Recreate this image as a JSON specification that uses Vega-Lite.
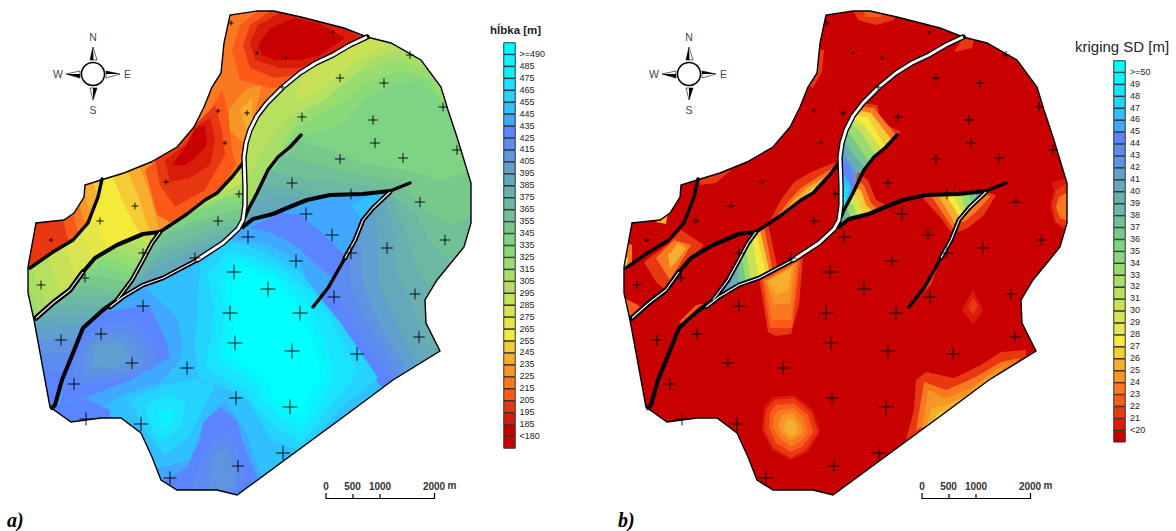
{
"$schema":"https://vega.github.io/schema/vega-lite/v6.json",
"padding":0,"spacing":0,"bounds":"flush","background":"white",
"config":{"view":{"stroke":null}},
"resolve":{"scale":{"color":"independent"},"legend":{"color":"independent"}},
"datasets":{
"outline":[{"type":"LineString","coordinates":[[28,267],[36,223],[64,220],[74,213],[84,197],[85,185],[101,180],[124,173],[151,162],[177,147],[194,127],[204,107],[212,87],[221,73],[224,43],[230,15],[257,11],[274,11],[301,17],[344,28],[367,37],[391,43],[421,60],[441,87],[448,110],[457,137],[471,183],[471,223],[464,247],[437,280],[425,300],[426,323],[440,351],[393,380],[350,412],[237,495],[217,490],[177,490],[161,480],[152,457],[141,433],[121,418],[101,418],[71,422],[50,407],[34,320],[28,293],[28,267]]}],
"mask":[{"type":"Polygon","coordinates":[[[16,4],[16,505],[482,505],[482,4],[16,4]],[[28,267],[36,223],[64,220],[74,213],[84,197],[85,185],[101,180],[124,173],[151,162],[177,147],[194,127],[204,107],[212,87],[221,73],[224,43],[230,15],[257,11],[274,11],[301,17],[344,28],[367,37],[391,43],[421,60],[441,87],[448,110],[457,137],[471,183],[471,223],[464,247],[437,280],[425,300],[426,323],[440,351],[393,380],[350,412],[237,495],[217,490],[177,490],[161,480],[152,457],[141,433],[121,418],[101,418],[71,422],[50,407],[34,320],[28,293],[28,267]]]}],
"faults":[
{"weight":"wide","inner":"wide","type":"LineString","coordinates":[[367,37],[350,45],[333,55],[316,63],[300,73],[283,87],[267,103],[257,116],[250,130],[246,143],[244,157],[245,187],[245,205],[243,220],[238,229],[223,243],[197,260]]},
{"weight":"narrow","inner":"narrow","type":"LineString","coordinates":[[197,260],[163,278],[143,285],[123,297],[110,307]]},
{"weight":"narrow","inner":"narrow","type":"LineString","coordinates":[[160,232],[152,243],[143,260],[132,280],[117,300]]},
{"weight":"thick","inner":"none","type":"LineString","coordinates":[[117,300],[103,310],[83,328],[73,353],[62,380],[55,405],[52,408]]},
{"weight":"wide","inner":"narrow","type":"LineString","coordinates":[[36,318],[53,303],[70,290],[83,272]]},
{"weight":"thick","inner":"none","type":"LineString","coordinates":[[83,272],[95,258],[117,245],[143,234],[160,232]]},
{"weight":"medium","inner":"none","type":"LineString","coordinates":[[160,232],[172,224],[187,214],[205,200],[217,193],[232,177],[243,163]]},
{"weight":"medium","inner":"none","type":"LineString","coordinates":[[30,268],[53,252],[73,240],[88,223],[93,210],[98,197],[102,179]]},
{"weight":"medium","inner":"none","type":"LineString","coordinates":[[301,135],[290,147],[278,157],[268,170],[257,193],[248,210],[245,217]]},
{"weight":"thick","inner":"none","type":"LineString","coordinates":[[243,227],[253,219],[273,214],[287,208],[307,200],[330,195],[363,194],[390,191]]},
{"weight":"medium","inner":"none","type":"LineString","coordinates":[[390,191],[410,183]]},
{"weight":"narrow","inner":"narrow","type":"LineString","coordinates":[[390,192],[373,208],[363,220],[355,240],[345,258]]},
{"weight":"medium","inner":"none","type":"LineString","coordinates":[[345,258],[328,288],[313,307]]}
],
"wells":[
{"x":231,"y":23,"depth":210},{"x":257,"y":53,"depth":180},{"x":286,"y":58,"depth":180},{"x":333,"y":32,"depth":180},{"x":282,"y":87,"depth":215},{"x":218,"y":111,"depth":205},{"x":247,"y":113,"depth":225},{"x":225,"y":143,"depth":195},{"x":166,"y":182,"depth":225},{"x":135,"y":206,"depth":255},{"x":100,"y":221,"depth":265},{"x":51,"y":240,"depth":200},{"x":85,"y":278,"depth":300},{"x":41,"y":285,"depth":310},{"x":239,"y":194,"depth":270},{"x":218,"y":221,"depth":335},{"x":410,"y":55,"depth":290},{"x":340,"y":78,"depth":295},{"x":384,"y":83,"depth":320},{"x":443,"y":107,"depth":315},{"x":302,"y":117,"depth":310},{"x":373,"y":120,"depth":330},{"x":375,"y":143,"depth":340},{"x":340,"y":159,"depth":345},{"x":403,"y":158,"depth":340},{"x":457,"y":150,"depth":335},{"x":292,"y":183,"depth":375},{"x":420,"y":202,"depth":350},{"x":351,"y":194,"depth":365},{"x":306,"y":214,"depth":425},{"x":445,"y":240,"depth":365},{"x":332,"y":235,"depth":425},{"x":387,"y":248,"depth":395},{"x":351,"y":253,"depth":415},{"x":248,"y":237,"depth":425},{"x":296,"y":261,"depth":435},{"x":195,"y":258,"depth":370},{"x":143,"y":253,"depth":325},{"x":234,"y":272,"depth":480},{"x":268,"y":289,"depth":490},{"x":334,"y":297,"depth":425},{"x":415,"y":294,"depth":370},{"x":143,"y":306,"depth":420},{"x":230,"y":313,"depth":490},{"x":300,"y":313,"depth":490},{"x":419,"y":337,"depth":390},{"x":101,"y":334,"depth":395},{"x":61,"y":340,"depth":385},{"x":235,"y":343,"depth":490},{"x":292,"y":351,"depth":490},{"x":357,"y":354,"depth":450},{"x":132,"y":363,"depth":405},{"x":187,"y":368,"depth":440},{"x":74,"y":384,"depth":420},{"x":236,"y":398,"depth":450},{"x":290,"y":407,"depth":490},{"x":86,"y":419,"depth":425},{"x":141,"y":424,"depth":470},{"x":283,"y":453,"depth":450},{"x":238,"y":466,"depth":410},{"x":170,"y":478,"depth":440}
],
"spikes":[
{"type":"Polygon","coordinates":[[[93,47],[90,60],[97,60],[93,47]]]},
{"type":"Polygon","coordinates":[[[93,100],[90,88],[97,88],[93,100]]]},
{"type":"Polygon","coordinates":[[[66,74],[80,71],[80,78],[66,74]]]},
{"type":"Polygon","coordinates":[[[120,74],[106,71],[106,78],[120,74]]]}
],
"spikeHalves":[
{"type":"Polygon","coordinates":[[[93,47],[90,60],[93.5,60],[93,47]]]},
{"type":"Polygon","coordinates":[[[93,100],[97,88],[93,88],[93,100]]]},
{"type":"Polygon","coordinates":[[[66,74],[80,78],[80,74],[66,74]]]},
{"type":"Polygon","coordinates":[[[120,74],[106,71],[106,74],[120,74]]]}
],
"scaleBar":[{"type":"MultiLineString","coordinates":[[[326,493],[326,498.5],[434.5,498.5],[434.5,493]],[[353,494],[353,498.5]],[[380,494],[380,498.5]]]}],
"scaleText":[{"x":326,"y":490,"t":"0"},{"x":352.5,"y":490,"t":"500"},{"x":380,"y":490,"t":"1000"},{"x":434,"y":490,"t":"2000"},{"x":452,"y":489,"t":"m"}],
"compassText":[{"x":93,"y":41,"t":"N"},{"x":58,"y":78,"t":"W"},{"x":127.5,"y":78,"t":"E"},{"x":93,"y":114,"t":"S"}],
"legendA":[{"y":48.5,"band":">=490"},{"y":60.4,"band":"485"},{"y":72.4,"band":"475"},{"y":84.3,"band":"465"},{"y":96.3,"band":"455"},{"y":108.2,"band":"445"},{"y":120.1,"band":"435"},{"y":132.1,"band":"425"},{"y":144,"band":"415"},{"y":156,"band":"405"},{"y":167.9,"band":"395"},{"y":179.8,"band":"385"},{"y":191.8,"band":"375"},{"y":203.7,"band":"365"},{"y":215.7,"band":"355"},{"y":227.6,"band":"345"},{"y":239.5,"band":"335"},{"y":251.5,"band":"325"},{"y":263.4,"band":"315"},{"y":275.4,"band":"305"},{"y":287.3,"band":"295"},{"y":299.2,"band":"285"},{"y":311.2,"band":"275"},{"y":323.1,"band":"265"},{"y":335.1,"band":"255"},{"y":347,"band":"245"},{"y":358.9,"band":"235"},{"y":370.9,"band":"225"},{"y":382.8,"band":"215"},{"y":394.8,"band":"205"},{"y":406.7,"band":"195"},{"y":418.6,"band":"185"},{"y":430.6,"band":"<180"},{"y":442.5,"band":"below"}],
"legendB":[{"y":66.5,"band":">=50"},{"y":78.4,"band":"49"},{"y":90.4,"band":"48"},{"y":102.3,"band":"47"},{"y":114.2,"band":"46"},{"y":126.2,"band":"45"},{"y":138.1,"band":"44"},{"y":150,"band":"43"},{"y":161.9,"band":"42"},{"y":173.9,"band":"41"},{"y":185.8,"band":"40"},{"y":197.7,"band":"39"},{"y":209.7,"band":"38"},{"y":221.6,"band":"37"},{"y":233.5,"band":"36"},{"y":245.5,"band":"35"},{"y":257.4,"band":"34"},{"y":269.3,"band":"33"},{"y":281.2,"band":"32"},{"y":293.2,"band":"31"},{"y":305.1,"band":"30"},{"y":317,"band":"29"},{"y":329,"band":"28"},{"y":340.9,"band":"27"},{"y":352.8,"band":"26"},{"y":364.8,"band":"25"},{"y":376.7,"band":"24"},{"y":388.6,"band":"23"},{"y":400.5,"band":"22"},{"y":412.5,"band":"21"},{"y":424.4,"band":"<20"},{"y":436.3,"band":"below"}],
"fieldA":[
{"band":"335","type":"Polygon","coordinates":[[[22,8],[476,8],[476,500],[22,500],[22,8]]]},
{"band":"345","type":"Polygon","coordinates":[[[296,140],[330,150],[370,165],[405,170],[440,180],[476,170],[476,500],[240,500],[240,230],[296,140]]]},
{"band":"355","type":"Polygon","coordinates":[[[282,155],[320,165],[360,175],[400,182],[425,210],[450,225],[476,215],[476,500],[240,500],[240,230],[282,155]]]},
{"band":"365","type":"Polygon","coordinates":[[[270,170],[300,178],[340,182],[385,190],[415,212],[432,245],[450,262],[476,260],[476,500],[240,500],[240,230],[270,170]]]},
{"band":"375","type":"Polygon","coordinates":[[[262,185],[285,187],[320,195],[390,195],[405,230],[415,265],[430,290],[440,320],[476,340],[476,500],[240,500],[240,230],[262,185]]]},
{"band":"385","type":"Polygon","coordinates":[[[255,200],[290,196],[310,200],[385,200],[395,235],[395,270],[410,300],[425,345],[476,360],[476,500],[240,500],[240,230],[255,200]]]},
{"band":"395","type":"Polygon","coordinates":[[[375,212],[378,250],[378,280],[395,320],[415,360],[420,400],[240,500],[240,230],[375,212]]]},
{"band":"405","type":"Polygon","coordinates":[[[362,245],[362,280],[375,315],[405,367],[410,400],[240,500],[240,230],[362,245]]]},
{"band":"415","type":"Polygon","coordinates":[[[350,260],[350,285],[365,320],[398,372],[400,400],[240,500],[240,230],[350,260]]]},
{"band":"425","type":"Polygon","coordinates":[[[332,285],[340,300],[360,335],[390,378],[392,400],[240,500],[240,230],[332,285]]]},
{"band":"325","type":"Polygon","coordinates":[[[246,216],[257,193],[268,170],[282,153],[301,135],[325,130],[345,122],[365,100],[390,85],[420,80],[445,105],[460,135],[476,145],[476,8],[232,8],[232,216],[246,216]]]},
{"band":"315","type":"Polygon","coordinates":[[[246,216],[257,193],[268,170],[282,153],[296,128],[320,115],[345,100],[370,82],[400,70],[430,80],[448,108],[476,115],[476,8],[232,8],[232,216],[246,216]]]},
{"band":"305","type":"Polygon","coordinates":[[[246,216],[257,193],[268,170],[280,150],[298,118],[330,95],[360,72],[395,60],[425,68],[445,90],[476,85],[476,8],[232,8],[232,216],[246,216]]]},
{"band":"295","type":"Polygon","coordinates":[[[246,180],[262,150],[285,120],[305,108],[325,100],[345,82],[370,60],[400,50],[440,65],[476,60],[476,8],[232,8],[232,180],[246,180]]]},
{"band":"285","type":"Polygon","coordinates":[[[300,100],[320,90],[350,65],[385,45],[370,30],[330,50],[305,75],[295,90],[300,100]]]},

{"band":"435","type":"Polygon","coordinates":[[[243,222],[253,219],[273,214],[287,208],[307,200],[330,195],[363,194],[390,191],[373,208],[363,220],[355,240],[345,258],[328,288],[313,307],[350,345],[380,385],[393,400],[240,500],[160,500],[40,430],[50,408],[55,405],[62,380],[73,353],[83,328],[103,310],[117,300],[123,297],[143,285],[163,278],[197,260],[223,243],[238,229],[243,222]]]},
{"band":"445","type":"Polygon","coordinates":[[[147,288],[177,317],[183,343],[180,360],[160,383],[127,393],[100,408],[110,425],[150,470],[190,460],[205,420],[225,400],[245,430],[262,480],[390,395],[360,365],[335,338],[316,305],[300,262],[270,245],[240,240],[200,262],[165,280],[147,288]]]},
{"band":"445","type":"Polygon","coordinates":[[[375,193],[390,191],[373,208],[363,220],[352,205],[375,193]]]},
{"band":"425","type":"Polygon","coordinates":[[[250,228],[280,213],[300,215],[325,235],[347,258],[335,280],[320,268],[295,245],[270,232],[250,228]]]},
{"band":"425","type":"Polygon","coordinates":[[[103,312],[150,305],[167,343],[170,357],[130,380],[87,397],[60,403],[65,380],[74,350],[83,328],[103,312]]]},
{"band":"425","type":"Polygon","coordinates":[[[55,405],[85,398],[110,410],[110,422],[71,425],[50,410],[55,405]]]},
{"band":"415","type":"Polygon","coordinates":[[[100,325],[135,322],[155,350],[155,368],[120,380],[85,385],[72,378],[80,345],[100,325]]]},
{"band":"405","type":"Polygon","coordinates":[[[100,335],[125,332],[145,352],[142,368],[110,375],[85,375],[85,350],[100,335]]]},
{"band":"395","type":"Polygon","coordinates":[[[95,345],[120,342],[132,358],[115,368],[92,365],[95,345]]]},
{"band":"455","type":"Polygon","coordinates":[[[200,265],[230,240],[265,252],[300,272],[318,295],[340,322],[358,348],[378,378],[340,408],[305,452],[272,440],[248,400],[225,388],[198,378],[195,345],[198,310],[200,265]]]},
{"band":"465","type":"Polygon","coordinates":[[[208,275],[228,250],[252,256],[280,267],[312,292],[330,318],[345,345],[358,372],[330,408],[302,443],[278,428],[255,408],[245,390],[225,380],[205,365],[212,335],[214,305],[208,275]]]},
{"band":"475","type":"Polygon","coordinates":[[[220,280],[232,257],[275,272],[303,297],[318,322],[328,350],[335,378],[318,410],[300,433],[282,418],[262,400],[258,388],[240,375],[218,360],[222,335],[224,310],[220,280]]]},
{"band":"485","type":"Polygon","coordinates":[[[225,285],[238,262],[275,276],[299,300],[312,324],[322,352],[328,378],[312,402],[301,425],[286,414],[268,399],[262,385],[244,371],[224,358],[227,335],[228,310],[225,285]]]},
{"band":">=490","type":"Polygon","coordinates":[[[240,268],[273,280],[294,302],[306,324],[316,352],[320,375],[309,396],[299,415],[290,408],[272,394],[268,380],[247,365],[232,352],[234,335],[234,310],[232,287],[240,268]]]},
{"band":"455","type":"Polygon","coordinates":[[[130,400],[165,385],[195,380],[215,385],[205,405],[190,435],[165,455],[152,440],[140,422],[130,400]]]},
{"band":"465","type":"Polygon","coordinates":[[[145,405],[170,395],[185,403],[182,425],[165,440],[155,435],[148,418],[145,405]]]},
{"band":"475","type":"Polygon","coordinates":[[[158,412],[172,410],[175,420],[163,430],[158,412]]]},
{"band":"425","type":"Polygon","coordinates":[[[220,407],[237,420],[243,443],[257,477],[240,497],[173,497],[163,482],[187,467],[200,440],[203,423],[220,407]]]},
{"band":"415","type":"Polygon","coordinates":[[[214,440],[228,432],[238,452],[245,480],[232,492],[190,492],[200,465],[214,440]]]},
{"band":"405","type":"Polygon","coordinates":[[[212,455],[225,447],[235,465],[235,489],[208,490],[212,455]]]},

{"band":"385","type":"Polygon","coordinates":[[[160,232],[172,224],[187,214],[205,200],[217,193],[232,177],[243,163],[245,187],[245,205],[243,220],[238,229],[223,243],[197,260],[163,278],[143,285],[123,297],[117,300],[132,280],[143,260],[152,243],[160,232]]]},
{"band":"375","type":"Polygon","coordinates":[[[120,298],[150,270],[178,258],[210,245],[225,243],[238,229],[245,205],[245,187],[244,160],[160,160],[160,232],[152,243],[143,260],[132,280],[120,298]]]},
{"band":"365","type":"Polygon","coordinates":[[[130,285],[158,258],[185,247],[212,238],[232,232],[245,205],[245,187],[244,160],[160,160],[160,232],[152,243],[143,260],[132,280],[130,285]]]},
{"band":"355","type":"Polygon","coordinates":[[[142,262],[165,245],[192,237],[220,228],[240,225],[245,205],[245,187],[244,160],[160,160],[160,232],[152,243],[142,262]]]},
{"band":"345","type":"Polygon","coordinates":[[[150,245],[172,232],[200,225],[225,220],[245,218],[245,187],[244,160],[160,160],[160,232],[152,243],[150,245]]]},
{"band":"335","type":"Polygon","coordinates":[[[155,238],[178,226],[205,218],[228,212],[245,208],[245,187],[244,160],[160,160],[160,232],[155,238]]]},
{"band":"325","type":"Polygon","coordinates":[[[165,228],[190,213],[215,206],[235,203],[245,198],[245,187],[244,160],[160,160],[165,228]]]},
{"band":"305","type":"Polygon","coordinates":[[[185,217],[205,205],[222,198],[236,194],[245,190],[244,160],[170,160],[185,217]]]},
{"band":"285","type":"Polygon","coordinates":[[[210,198],[225,190],[238,185],[245,182],[244,160],[200,160],[210,198]]]},
{"band":"265","type":"Polygon","coordinates":[[[228,178],[238,172],[245,170],[244,155],[225,155],[228,178]]]},

{"band":"425","type":"Polygon","coordinates":[[[160,232],[143,234],[117,245],[95,258],[83,272],[70,290],[53,303],[36,318],[20,318],[40,420],[55,405],[62,380],[73,353],[83,328],[103,310],[117,300],[132,280],[143,260],[152,243],[160,232]]]},
{"band":"415","type":"Polygon","coordinates":[[[20,375],[65,370],[73,353],[83,328],[103,310],[117,300],[132,280],[143,260],[152,243],[160,232],[160,225],[20,225],[20,375]]]},
{"band":"405","type":"Polygon","coordinates":[[[20,355],[72,352],[83,328],[103,310],[117,300],[132,280],[143,260],[152,243],[160,232],[160,225],[20,225],[20,355]]]},
{"band":"395","type":"Polygon","coordinates":[[[20,340],[78,338],[83,328],[103,310],[117,300],[132,280],[143,260],[152,243],[160,232],[160,225],[20,225],[20,340]]]},
{"band":"385","type":"Polygon","coordinates":[[[20,328],[85,325],[103,310],[117,300],[132,280],[143,260],[152,243],[160,232],[160,225],[20,225],[20,328]]]},
{"band":"375","type":"Polygon","coordinates":[[[20,322],[60,315],[95,318],[103,310],[117,300],[132,280],[143,260],[152,243],[160,232],[160,225],[20,225],[20,322]]]},
{"band":"365","type":"Polygon","coordinates":[[[48,308],[72,305],[108,307],[117,300],[132,280],[143,260],[152,243],[160,232],[160,225],[20,225],[48,308]]]},
{"band":"355","type":"Polygon","coordinates":[[[55,300],[80,295],[118,298],[132,280],[143,260],[152,243],[160,232],[160,225],[20,225],[55,300]]]},
{"band":"345","type":"Polygon","coordinates":[[[62,295],[85,285],[122,292],[132,280],[143,260],[152,243],[160,232],[160,225],[20,225],[62,295]]]},
{"band":"335","type":"Polygon","coordinates":[[[70,288],[92,275],[130,282],[143,260],[152,243],[160,232],[160,225],[20,225],[70,288]]]},
{"band":"325","type":"Polygon","coordinates":[[[75,282],[100,265],[133,276],[143,260],[152,243],[160,232],[160,225],[20,225],[75,282]]]},
{"band":"315","type":"Polygon","coordinates":[[[83,270],[105,258],[138,268],[143,260],[152,243],[160,232],[160,225],[20,225],[83,270]]]},
{"band":"305","type":"Polygon","coordinates":[[[90,262],[115,250],[143,260],[152,243],[160,232],[160,225],[20,225],[90,262]]]},
{"band":"295","type":"Polygon","coordinates":[[[100,253],[125,243],[148,250],[152,243],[160,232],[160,225],[20,225],[100,253]]]},
{"band":"285","type":"Polygon","coordinates":[[[118,245],[135,238],[152,243],[160,232],[160,225],[60,225],[118,245]]]},

{"band":"215","type":"Polygon","coordinates":[[[102,175],[210,70],[222,8],[372,8],[367,37],[350,45],[333,55],[316,63],[300,73],[283,87],[267,103],[257,116],[250,130],[246,143],[244,157],[243,163],[232,177],[217,193],[205,200],[187,214],[172,224],[160,232],[143,234],[117,245],[95,258],[83,272],[70,290],[53,303],[36,318],[20,320],[20,268],[30,268],[53,252],[73,240],[88,223],[93,210],[98,197],[102,175]]]},
{"band":"225","type":"Polygon","coordinates":[[[147,150],[160,190],[172,224],[160,232],[143,234],[117,245],[95,258],[83,272],[70,290],[53,303],[36,318],[20,318],[20,150],[147,150]]]},
{"band":"235","type":"Polygon","coordinates":[[[135,155],[150,195],[160,232],[143,234],[117,245],[95,258],[83,272],[70,290],[53,303],[36,318],[20,318],[20,155],[135,155]]]},
{"band":"245","type":"Polygon","coordinates":[[[122,160],[138,195],[150,233],[143,234],[117,245],[95,258],[83,272],[70,290],[53,303],[36,318],[20,318],[20,160],[122,160]]]},
{"band":"255","type":"Polygon","coordinates":[[[108,165],[122,200],[140,235],[117,245],[95,258],[83,272],[70,290],[53,303],[36,318],[20,318],[20,165],[108,165]]]},
{"band":"265","type":"Polygon","coordinates":[[[92,200],[92,215],[108,249],[95,258],[83,272],[70,290],[53,303],[36,318],[20,318],[20,200],[92,200]]]},
{"band":"275","type":"Polygon","coordinates":[[[78,225],[93,260],[83,272],[70,290],[53,303],[36,318],[20,318],[20,225],[78,225]]]},
{"band":"285","type":"Polygon","coordinates":[[[60,240],[78,278],[70,290],[53,303],[36,318],[20,318],[20,240],[60,240]]]},
{"band":"295","type":"Polygon","coordinates":[[[45,250],[62,296],[53,303],[36,318],[20,318],[20,250],[45,250]]]},
{"band":"305","type":"Polygon","coordinates":[[[30,262],[47,308],[36,318],[20,318],[20,262],[30,262]]]},
{"band":"315","type":"Polygon","coordinates":[[[28,285],[38,312],[36,318],[20,318],[20,285],[28,285]]]},
{"band":"225","type":"Polygon","coordinates":[[[225,115],[245,90],[262,85],[255,115],[245,145],[230,130],[225,115]]]},
{"band":"235","type":"Polygon","coordinates":[[[240,110],[252,98],[252,120],[246,130],[240,110]]]},
{"band":"205","type":"Polygon","coordinates":[[[232,50],[240,25],[262,8],[300,8],[367,37],[350,45],[333,55],[316,63],[300,73],[283,87],[270,88],[240,80],[232,50]]]},
{"band":"195","type":"Polygon","coordinates":[[[243,45],[250,25],[275,8],[330,15],[367,37],[350,45],[333,55],[316,63],[295,75],[275,78],[250,68],[243,45]]]},
{"band":"185","type":"Polygon","coordinates":[[[250,42],[258,25],[285,10],[340,25],[362,38],[333,55],[316,63],[300,68],[280,68],[255,60],[250,42]]]},
{"band":"<180","type":"Polygon","coordinates":[[[258,45],[270,28],[295,18],[320,24],[345,38],[320,55],[300,60],[275,60],[262,55],[258,45]]]},
{"band":"205","type":"Polygon","coordinates":[[[205,120],[222,90],[228,110],[232,150],[236,165],[220,190],[195,206],[170,222],[157,215],[145,170],[180,140],[205,120]]]},
{"band":"195","type":"Polygon","coordinates":[[[202,118],[215,105],[222,130],[225,155],[205,190],[175,207],[160,185],[155,160],[180,140],[202,118]]]},
{"band":"185","type":"Polygon","coordinates":[[[198,125],[210,118],[215,140],[210,165],[190,178],[170,182],[165,160],[185,145],[198,125]]]},
{"band":"<180","type":"Polygon","coordinates":[[[195,128],[205,125],[207,145],[195,158],[185,165],[172,165],[187,145],[195,128]]]},

{"band":"195","type":"Polygon","coordinates":[[[20,215],[68,215],[78,207],[87,190],[87,175],[102,175],[98,197],[93,210],[88,223],[73,240],[53,252],[30,268],[20,275],[20,215]]]},
{"band":"205","type":"Polygon","coordinates":[[[62,215],[78,207],[87,175],[102,175],[98,197],[93,210],[88,223],[75,238],[68,240],[62,215]]]},
{"band":"215","type":"Polygon","coordinates":[[[72,210],[85,190],[85,175],[102,175],[98,197],[93,210],[85,225],[78,232],[72,210]]]},
{"band":"225","type":"Polygon","coordinates":[[[80,205],[85,185],[102,175],[98,197],[90,215],[84,222],[80,205]]]},
{"band":"235","type":"Polygon","coordinates":[[[84,192],[85,178],[102,175],[96,200],[89,210],[84,192]]]},
{"band":"245","type":"Polygon","coordinates":[[[92,178],[102,175],[97,195],[92,178]]]}
],
"fieldB":[
{"band":"below","type":"Polygon","coordinates":[[[22,8],[476,8],[476,500],[22,500],[22,8]]]},
{"band":"21","type":"Polygon","coordinates":[[[256,8],[300,8],[298,20],[280,25],[262,20],[256,8]]]},
{"band":"22","type":"Polygon","coordinates":[[[265,8],[290,8],[285,17],[270,17],[265,8]]]},
{"band":"21","type":"Polygon","coordinates":[[[367,38],[378,40],[376,48],[358,52],[367,38]]]},
{"band":"21","type":"Polygon","coordinates":[[[222,50],[228,50],[226,72],[217,88],[212,85],[222,50]]]},
{"band":"21","type":"Polygon","coordinates":[[[102,172],[140,160],[135,170],[120,183],[104,185],[102,172]]]},
{"band":"21","type":"Polygon","coordinates":[[[172,224],[185,200],[198,182],[215,172],[240,162],[232,178],[217,193],[187,214],[172,224]]]},
{"band":"23","type":"Polygon","coordinates":[[[180,218],[192,202],[205,188],[222,177],[237,168],[232,178],[217,193],[187,214],[180,218]]]},
{"band":"25","type":"Polygon","coordinates":[[[187,214],[198,200],[212,187],[228,178],[232,178],[217,193],[187,214]]]},
{"band":"27","type":"Polygon","coordinates":[[[197,207],[208,196],[220,186],[217,193],[197,207]]]},
{"band":"21","type":"Polygon","coordinates":[[[48,262],[72,244],[85,230],[108,245],[95,258],[83,272],[70,290],[60,282],[48,262]]]},
{"band":"23","type":"Polygon","coordinates":[[[60,258],[78,240],[95,245],[85,262],[74,280],[60,258]]]},
{"band":"25","type":"Polygon","coordinates":[[[72,255],[82,243],[90,248],[80,262],[74,268],[72,255]]]},
{"band":"23","type":"Polygon","coordinates":[[[22,240],[36,245],[36,262],[22,274],[22,240]]]},
{"band":"27","type":"Polygon","coordinates":[[[22,255],[32,258],[30,268],[22,274],[22,255]]]},
{"band":"25","type":"Polygon","coordinates":[[[60,222],[72,212],[70,224],[60,222]]]},
{"band":"22","type":"Polygon","coordinates":[[[22,295],[42,305],[47,310],[36,318],[22,320],[22,295]]]},
{"band":"22","type":"Polygon","coordinates":[[[83,322],[100,305],[112,303],[108,308],[90,325],[83,322]]]},
{"band":"21","type":"Polygon","coordinates":[[[160,232],[172,224],[182,270],[163,278],[143,285],[123,297],[117,300],[132,280],[143,260],[152,243],[160,232]]]},
{"band":"23","type":"Polygon","coordinates":[[[160,232],[168,227],[177,272],[163,278],[143,285],[123,297],[117,300],[132,280],[143,260],[152,243],[160,232]]]},
{"band":"26","type":"Polygon","coordinates":[[[160,232],[164,230],[174,274],[163,278],[143,285],[123,297],[117,300],[132,280],[143,260],[152,243],[160,232]]]},
{"band":"27","type":"Polygon","coordinates":[[[160,232],[170,275],[163,278],[143,285],[123,297],[117,300],[132,280],[143,260],[152,243],[160,232]]]},
{"band":"30","type":"Polygon","coordinates":[[[156,238],[163,278],[143,285],[123,297],[117,300],[132,280],[143,260],[152,243],[156,238]]]},
{"band":"33","type":"Polygon","coordinates":[[[150,250],[155,281],[143,285],[123,297],[117,300],[132,280],[143,260],[150,250]]]},
{"band":"36","type":"Polygon","coordinates":[[[146,257],[150,283],[143,285],[123,297],[117,300],[132,280],[143,260],[146,257]]]},
{"band":"39","type":"Polygon","coordinates":[[[141,264],[143,285],[123,297],[117,300],[132,280],[141,264]]]},
{"band":"41","type":"Polygon","coordinates":[[[136,273],[135,289],[123,297],[117,300],[132,280],[136,273]]]},
{"band":"43","type":"Polygon","coordinates":[[[130,283],[129,292],[123,297],[117,300],[130,283]]]},
{"band":"44","type":"Polygon","coordinates":[[[125,292],[125,295],[117,300],[125,292]]]},
{"band":"21","type":"Polygon","coordinates":[[[163,278],[172,332],[180,336],[195,334],[203,305],[207,258],[163,278]]]},
{"band":"22","type":"Polygon","coordinates":[[[166,279],[174,328],[196,328],[200,295],[204,260],[166,279]]]},
{"band":"23","type":"Polygon","coordinates":[[[168,281],[176,320],[195,320],[199,288],[202,262],[168,281]]]},
{"band":"24","type":"Polygon","coordinates":[[[170,281],[178,305],[194,303],[198,270],[200,263],[170,281]]]},
{"band":"25","type":"Polygon","coordinates":[[[172,281],[180,295],[192,290],[196,268],[172,281]]]},
{"band":"21","type":"Polygon","coordinates":[[[265,103],[281,105],[285,122],[305,132],[301,135],[290,147],[278,157],[268,167],[260,180],[255,195],[247,213],[245,217],[245,187],[244,157],[246,143],[250,130],[257,116],[265,103]]]},
{"band":"23","type":"Polygon","coordinates":[[[262,106],[278,108],[300,135],[290,147],[278,157],[268,167],[260,180],[255,195],[247,213],[245,217],[245,187],[244,157],[246,143],[250,130],[257,116],[262,106]]]},
{"band":"26","type":"Polygon","coordinates":[[[260,110],[275,113],[296,140],[290,147],[278,157],[268,167],[260,180],[255,195],[247,213],[245,217],[245,187],[244,157],[246,143],[250,130],[257,116],[260,110]]]},
{"band":"27","type":"Polygon","coordinates":[[[258,114],[272,118],[290,147],[278,157],[268,167],[260,180],[255,195],[247,213],[245,217],[245,187],[244,157],[246,143],[250,130],[258,114]]]},
{"band":"30","type":"Polygon","coordinates":[[[256,118],[268,125],[286,150],[278,157],[268,167],[260,180],[255,195],[247,213],[245,217],[245,187],[244,157],[246,143],[250,130],[256,118]]]},
{"band":"33","type":"Polygon","coordinates":[[[254,122],[265,133],[280,155],[268,167],[260,180],[255,195],[247,213],[245,217],[245,187],[244,157],[246,143],[250,130],[254,122]]]},
{"band":"36","type":"Polygon","coordinates":[[[250,130],[262,145],[273,162],[268,167],[260,180],[255,195],[247,213],[245,217],[245,187],[244,157],[246,143],[250,130]]]},
{"band":"39","type":"Polygon","coordinates":[[[247,140],[258,155],[268,167],[260,180],[255,195],[247,213],[245,217],[245,187],[244,157],[247,140]]]},
{"band":"42","type":"Polygon","coordinates":[[[245,148],[255,165],[262,176],[255,195],[247,213],[245,217],[245,187],[244,157],[245,148]]]},
{"band":"44","type":"Polygon","coordinates":[[[245,155],[252,166],[258,180],[255,195],[247,213],[245,217],[245,187],[245,155]]]},
{"band":"46","type":"Polygon","coordinates":[[[245,170],[254,184],[255,195],[247,213],[245,217],[245,170]]]},
{"band":"48","type":"Polygon","coordinates":[[[245,180],[252,190],[247,213],[245,217],[245,180]]]},
{"band":">=50","type":"Polygon","coordinates":[[[245,188],[250,200],[247,213],[245,217],[245,188]]]},
{"band":"21","type":"Polygon","coordinates":[[[262,172],[272,180],[280,200],[292,206],[273,214],[253,219],[245,222],[247,213],[255,195],[260,180],[262,172]]]},
{"band":"23","type":"Polygon","coordinates":[[[260,180],[268,185],[275,203],[283,210],[273,214],[253,219],[245,222],[247,213],[255,195],[260,180]]]},
{"band":"26","type":"Polygon","coordinates":[[[258,187],[265,190],[270,205],[278,212],[273,214],[253,219],[245,222],[247,213],[255,195],[258,187]]]},
{"band":"29","type":"Polygon","coordinates":[[[255,195],[261,197],[265,208],[270,215],[253,219],[245,222],[247,213],[255,195]]]},
{"band":"33","type":"Polygon","coordinates":[[[252,202],[258,205],[260,214],[263,216],[253,219],[245,222],[247,213],[252,202]]]},
{"band":"37","type":"Polygon","coordinates":[[[250,207],[253,213],[255,218],[245,222],[247,213],[250,207]]]},
{"band":"40","type":"Polygon","coordinates":[[[247,214],[250,217],[245,222],[247,214]]]},
{"band":"21","type":"Polygon","coordinates":[[[325,196],[390,190],[373,208],[363,220],[357,235],[345,218],[325,196]]]},
{"band":"23","type":"Polygon","coordinates":[[[335,196],[390,190],[373,208],[363,220],[358,230],[350,218],[335,196]]]},
{"band":"25","type":"Polygon","coordinates":[[[342,196],[390,190],[373,208],[363,220],[360,226],[353,213],[342,196]]]},
{"band":"27","type":"Polygon","coordinates":[[[350,196],[390,190],[373,208],[364,218],[358,208],[350,196]]]},
{"band":"30","type":"Polygon","coordinates":[[[358,196],[390,190],[373,208],[367,214],[362,205],[358,196]]]},
{"band":"33","type":"Polygon","coordinates":[[[365,195],[390,191],[373,208],[369,208],[365,195]]]},
{"band":"36","type":"Polygon","coordinates":[[[373,195],[390,191],[376,205],[373,195]]]},
{"band":"40","type":"Polygon","coordinates":[[[380,194],[390,191],[380,200],[380,194]]]},
{"band":"21","type":"Polygon","coordinates":[[[390,192],[400,195],[388,215],[372,228],[362,232],[363,220],[373,208],[390,192]]]},
{"band":"23","type":"Polygon","coordinates":[[[390,192],[394,197],[380,212],[368,222],[363,222],[373,208],[390,192]]]},
{"band":"21","type":"Polygon","coordinates":[[[326,288],[338,268],[345,258],[335,285],[320,300],[326,288]]]},
{"band":"<20","type":"Polygon","coordinates":[[[455,183],[458,190],[454,205],[458,222],[476,236],[476,176],[455,183]]]},
{"band":"21","type":"Polygon","coordinates":[[[476,180],[460,190],[456,205],[460,222],[476,232],[476,180]]]},
{"band":"23","type":"Polygon","coordinates":[[[476,190],[463,197],[460,207],[464,218],[476,222],[476,190]]]},
{"band":"<20","type":"Polygon","coordinates":[[[366,310],[377,290],[387,310],[377,325],[366,310]]]},
{"band":"21","type":"Polygon","coordinates":[[[372,307],[377,298],[382,306],[377,315],[372,307]]]},
{"band":"<20","type":"Polygon","coordinates":[[[176,397],[198,395],[217,410],[224,432],[212,452],[195,460],[176,450],[166,430],[168,408],[176,397]]]},
{"band":"21","type":"Polygon","coordinates":[[[178,400],[198,398],[215,412],[222,432],[210,450],[195,458],[178,448],[168,430],[170,410],[178,400]]]},
{"band":"22","type":"Polygon","coordinates":[[[180,405],[198,403],[212,415],[217,432],[207,446],[195,452],[180,443],[173,428],[174,412],[180,405]]]},
{"band":"23","type":"Polygon","coordinates":[[[183,410],[198,408],[208,418],[212,432],[204,442],[195,447],[183,438],[177,427],[178,415],[183,410]]]},
{"band":"24","type":"Polygon","coordinates":[[[186,415],[197,413],[205,423],[207,432],[200,438],[194,441],[186,434],[182,426],[186,415]]]},
{"band":"25","type":"Polygon","coordinates":[[[190,420],[197,419],[202,428],[199,435],[193,436],[188,430],[190,420]]]},
{"band":"21","type":"Polygon","coordinates":[[[310,440],[318,410],[320,380],[330,372],[358,378],[385,365],[405,352],[430,350],[430,365],[350,420],[310,440]]]},
{"band":"23","type":"Polygon","coordinates":[[[320,430],[326,395],[328,382],[350,390],[378,378],[405,362],[425,358],[350,415],[320,430]]]},
{"band":"24","type":"Polygon","coordinates":[[[326,428],[330,405],[332,390],[350,398],[375,388],[400,370],[415,362],[350,415],[326,428]]]},
{"band":"25","type":"Polygon","coordinates":[[[330,428],[336,408],[350,405],[372,395],[390,380],[402,372],[350,415],[330,428]]]},
{"band":"26","type":"Polygon","coordinates":[[[335,428],[342,412],[358,410],[375,398],[388,385],[350,415],[335,428]]]},
{"band":"27","type":"Polygon","coordinates":[[[340,426],[350,417],[365,408],[375,400],[350,418],[340,426]]]}
]
},
"hconcat":[
{"width":596,"height":531,
"projection":{"type":"identity","scale":1,"translate":[0,0]},
"resolve":{"scale":{"strokeWidth":"independent"}},
"layer":[
{"data":{"name":"fieldA"},"mark":{"type":"geoshape","strokeWidth":0},
 "encoding":{"color":{"field":"band","type":"nominal","sort":null,"legend":null,
 "scale":{"domain":[">=490","485","475","465","455","445","435","425","415","405","395","385","375","365","355","345","335","325","315","305","295","285","275","265","255","245","235","225","215","205","195","185","<180","below"],
 "range":["#00FFFF","#04F8FF","#0CF0FF","#18E4FF","#24D4FF","#30C0FF","#40A8FF","#5A85FF","#5C8CF0","#5E94E0","#60A0D0","#64A8BC","#68B0B0","#6CB8A4","#72C098","#78C88C","#7ED484","#88DA78","#98DC70","#A8DE68","#B8E060","#C8E258","#D8E450","#E6E648","#F4EA3C","#F5CC35","#F5AE2D","#F79526","#F97820","#FB5A19","#E83812","#D91C0A","#C80000","#C80000"]}}}},
{"data":{"name":"mask"},"mark":{"type":"geoshape","fill":"white","stroke":null},"encoding":{}},
{"data":{"name":"outline"},"mark":{"type":"geoshape","filled":false,"stroke":"#000000","strokeWidth":1.4},"encoding":{}},
{"data":{"name":"faults"},"mark":{"type":"geoshape","filled":false,"stroke":"#000000","strokeCap":"round","strokeJoin":"round"},
 "encoding":{"strokeWidth":{"field":"weight","type":"ordinal","scale":{"domain":["wide","narrow","thick","medium"],"range":[5.5,3.4,2.5,1.8]},"legend":null}}},
{"data":{"name":"faults"},"transform":[{"filter":"datum.inner!='none'"}],"mark":{"type":"geoshape","filled":false,"stroke":"#FFFFFF","strokeJoin":"round"},
 "encoding":{"strokeWidth":{"field":"inner","type":"ordinal","scale":{"domain":["wide","narrow"],"range":[2.8,1.1]},"legend":null}}},
{"data":{"name":"wells"},"mark":{"type":"point","shape":"M-1,0L1,0M0,-1L0,1","filled":false,"stroke":"#000000","strokeWidth":1,"opacity":0.9},
 "encoding":{"longitude":{"field":"x","type":"quantitative"},"latitude":{"field":"y","type":"quantitative"},
 "size":{"field":"depth","type":"quantitative","scale":{"type":"pow","exponent":2,"domain":[180,490],"range":[12,225]},"legend":null}}},
{"data":{"name":"spikes"},"mark":{"type":"geoshape","fill":"#FFFFFF","stroke":"#000000","strokeWidth":0.6},"encoding":{}},
{"data":{"name":"spikeHalves"},"mark":{"type":"geoshape","fill":"#000000","stroke":null},"encoding":{}},
{"data":{"values":[{"x":93,"y":74}]},"mark":{"type":"point","shape":"circle","size":531,"filled":true,"fill":"#FFFFFF","stroke":"#000000","strokeWidth":1.5,"opacity":1},
 "encoding":{"longitude":{"field":"x","type":"quantitative"},"latitude":{"field":"y","type":"quantitative"}}},
{"data":{"name":"compassText"},"mark":{"type":"text","font":"Liberation Sans","fontSize":10.5,"fill":"#444444","align":"center","baseline":"alphabetic"},
 "encoding":{"longitude":{"field":"x","type":"quantitative"},"latitude":{"field":"y","type":"quantitative"},"text":{"field":"t"}}},
{"data":{"name":"scaleBar"},"mark":{"type":"geoshape","filled":false,"stroke":"#000000","strokeWidth":1.2},"encoding":{}},
{"data":{"name":"scaleText"},"mark":{"type":"text","font":"Liberation Sans","fontSize":10,"fontWeight":"bold","fill":"#333333","align":"center","baseline":"alphabetic"},
 "encoding":{"longitude":{"field":"x","type":"quantitative"},"latitude":{"field":"y","type":"quantitative"},"text":{"field":"t"}}},
{"data":{"name":"legendA"},"mark":{"type":"point","shape":"square","size":132,"filled":true,"stroke":"#333333","strokeWidth":1,"opacity":1},
 "encoding":{"longitude":{"datum":509.5},"latitude":{"field":"y","type":"quantitative"},
 "color":{"field":"band","type":"nominal","sort":null,"legend":null,
 "scale":{"domain":[">=490","485","475","465","455","445","435","425","415","405","395","385","375","365","355","345","335","325","315","305","295","285","275","265","255","245","235","225","215","205","195","185","<180","below"],
 "range":["#00FFFF","#04F8FF","#0CF0FF","#18E4FF","#24D4FF","#30C0FF","#40A8FF","#5A85FF","#5C8CF0","#5E94E0","#60A0D0","#64A8BC","#68B0B0","#6CB8A4","#72C098","#78C88C","#7ED484","#88DA78","#98DC70","#A8DE68","#B8E060","#C8E258","#D8E450","#E6E648","#F4EA3C","#F5CC35","#F5AE2D","#F79526","#F97820","#FB5A19","#E83812","#D91C0A","#C80000","#C80000"]}}}},
{"data":{"name":"legendA"},"transform":[{"filter":"datum.band!='below'"}],"mark":{"type":"text","font":"Liberation Sans","fontSize":9,"fill":"#222222","align":"left","baseline":"alphabetic","dy":8.4},
 "encoding":{"longitude":{"datum":519.5},"latitude":{"field":"y","type":"quantitative"},"text":{"field":"band"}}},
{"data":{"values":[{"x":490,"y":34,"t":"hĺbka [m]"}]},"mark":{"type":"text","font":"Liberation Sans","fontSize":11.5,"fontWeight":"bold","fill":"#222222","align":"left","baseline":"alphabetic"},
 "encoding":{"longitude":{"field":"x","type":"quantitative"},"latitude":{"field":"y","type":"quantitative"},"text":{"field":"t"}}},
{"data":{"values":[{"x":7,"y":527,"t":"a)"}]},"mark":{"type":"text","font":"Liberation Serif","fontSize":20,"fontWeight":"bold","fontStyle":"italic","fill":"#000000","align":"left","baseline":"alphabetic"},
 "encoding":{"longitude":{"field":"x","type":"quantitative"},"latitude":{"field":"y","type":"quantitative"},"text":{"field":"t"}}}
]},
{"width":580,"height":531,
"projection":{"type":"identity","scale":1,"translate":[0,0]},
"resolve":{"scale":{"strokeWidth":"independent"}},
"layer":[
{"data":{"name":"fieldB"},"mark":{"type":"geoshape","strokeWidth":0},
 "encoding":{"color":{"field":"band","type":"nominal","sort":null,"legend":null,
 "scale":{"domain":[">=50","49","48","47","46","45","44","43","42","41","40","39","38","37","36","35","34","33","32","31","30","29","28","27","26","25","24","23","22","21","<20","below"],
 "range":["#00FFFF","#04F8FF","#18E4FF","#24D4FF","#30C0FF","#40A8FF","#5A85FF","#5C8CF0","#5E94E0","#60A0D0","#64A8BC","#68B0B0","#6CB8A4","#72C098","#78C88C","#7ED484","#88DA78","#98DC70","#A8DE68","#B8E060","#C8E258","#D8E450","#E6E648","#F4EA3C","#F5CC35","#F5AE2D","#F79526","#F97820","#FB5A19","#E83812","#D91C0A","#C80000"]}}}},
{"data":{"name":"mask"},"mark":{"type":"geoshape","fill":"white","stroke":null},"encoding":{}},
{"data":{"name":"outline"},"mark":{"type":"geoshape","filled":false,"stroke":"#000000","strokeWidth":1.4},"encoding":{}},
{"data":{"name":"faults"},"mark":{"type":"geoshape","filled":false,"stroke":"#000000","strokeCap":"round","strokeJoin":"round"},
 "encoding":{"strokeWidth":{"field":"weight","type":"ordinal","scale":{"domain":["wide","narrow","thick","medium"],"range":[5.5,3.4,2.5,1.8]},"legend":null}}},
{"data":{"name":"faults"},"transform":[{"filter":"datum.inner!='none'"}],"mark":{"type":"geoshape","filled":false,"stroke":"#FFFFFF","strokeJoin":"round"},
 "encoding":{"strokeWidth":{"field":"inner","type":"ordinal","scale":{"domain":["wide","narrow"],"range":[2.8,1.1]},"legend":null}}},
{"data":{"name":"wells"},"mark":{"type":"point","shape":"M-1,0L1,0M0,-1L0,1","filled":false,"stroke":"#000000","strokeWidth":1,"opacity":0.9},
 "encoding":{"longitude":{"field":"x","type":"quantitative"},"latitude":{"field":"y","type":"quantitative"},
 "size":{"field":"depth","type":"quantitative","scale":{"type":"pow","exponent":2,"domain":[180,490],"range":[12,225]},"legend":null}}},
{"data":{"name":"spikes"},"mark":{"type":"geoshape","fill":"#FFFFFF","stroke":"#000000","strokeWidth":0.6},"encoding":{}},
{"data":{"name":"spikeHalves"},"mark":{"type":"geoshape","fill":"#000000","stroke":null},"encoding":{}},
{"data":{"values":[{"x":93,"y":74}]},"mark":{"type":"point","shape":"circle","size":531,"filled":true,"fill":"#FFFFFF","stroke":"#000000","strokeWidth":1.5,"opacity":1},
 "encoding":{"longitude":{"field":"x","type":"quantitative"},"latitude":{"field":"y","type":"quantitative"}}},
{"data":{"name":"compassText"},"mark":{"type":"text","font":"Liberation Sans","fontSize":10.5,"fill":"#444444","align":"center","baseline":"alphabetic"},
 "encoding":{"longitude":{"field":"x","type":"quantitative"},"latitude":{"field":"y","type":"quantitative"},"text":{"field":"t"}}},
{"data":{"name":"scaleBar"},"mark":{"type":"geoshape","filled":false,"stroke":"#000000","strokeWidth":1.2},"encoding":{}},
{"data":{"name":"scaleText"},"mark":{"type":"text","font":"Liberation Sans","fontSize":10,"fontWeight":"bold","fill":"#333333","align":"center","baseline":"alphabetic"},
 "encoding":{"longitude":{"field":"x","type":"quantitative"},"latitude":{"field":"y","type":"quantitative"},"text":{"field":"t"}}},
{"data":{"name":"legendB"},"mark":{"type":"point","shape":"square","size":132,"filled":true,"stroke":"#333333","strokeWidth":1,"opacity":1},
 "encoding":{"longitude":{"datum":523.5},"latitude":{"field":"y","type":"quantitative"},
 "color":{"field":"band","type":"nominal","sort":null,"legend":null,
 "scale":{"domain":[">=50","49","48","47","46","45","44","43","42","41","40","39","38","37","36","35","34","33","32","31","30","29","28","27","26","25","24","23","22","21","<20","below"],
 "range":["#00FFFF","#04F8FF","#18E4FF","#24D4FF","#30C0FF","#40A8FF","#5A85FF","#5C8CF0","#5E94E0","#60A0D0","#64A8BC","#68B0B0","#6CB8A4","#72C098","#78C88C","#7ED484","#88DA78","#98DC70","#A8DE68","#B8E060","#C8E258","#D8E450","#E6E648","#F4EA3C","#F5CC35","#F5AE2D","#F79526","#F97820","#FB5A19","#E83812","#D91C0A","#C80000"]}}}},
{"data":{"name":"legendB"},"transform":[{"filter":"datum.band!='below'"}],"mark":{"type":"text","font":"Liberation Sans","fontSize":9,"fill":"#222222","align":"left","baseline":"alphabetic","dy":8.2},
 "encoding":{"longitude":{"datum":534},"latitude":{"field":"y","type":"quantitative"},"text":{"field":"band"}}},
{"data":{"values":[{"x":479,"y":52,"t":"kriging SD [m]"}]},"mark":{"type":"text","font":"Liberation Sans","fontSize":15,"fill":"#222222","align":"left","baseline":"alphabetic"},
 "encoding":{"longitude":{"field":"x","type":"quantitative"},"latitude":{"field":"y","type":"quantitative"},"text":{"field":"t"}}},
{"data":{"values":[{"x":22,"y":527,"t":"b)"}]},"mark":{"type":"text","font":"Liberation Serif","fontSize":20,"fontWeight":"bold","fontStyle":"italic","fill":"#000000","align":"left","baseline":"alphabetic"},
 "encoding":{"longitude":{"field":"x","type":"quantitative"},"latitude":{"field":"y","type":"quantitative"},"text":{"field":"t"}}}
]}
]
}
